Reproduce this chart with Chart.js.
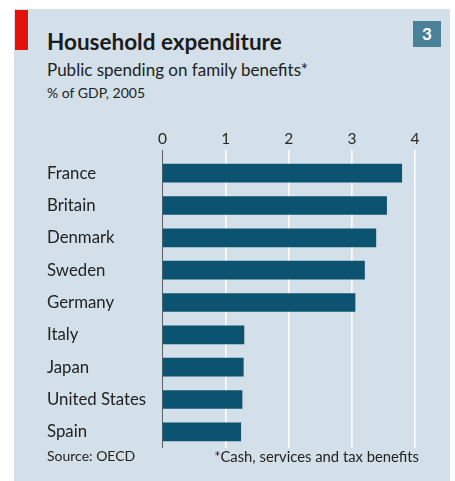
<!DOCTYPE html>
<html>
<head>
<meta charset="utf-8">
<script src="https://cdn.jsdelivr.net/npm/chart.js@4"></script>
<style>
  html, body { margin: 0; padding: 0; background: #fff; }
  body { width: 455px; height: 481px; position: relative; overflow: hidden; font-family: Lato, "Open Sans", sans-serif; }
  .panel { position: absolute; left: 14px; top: 9px; width: 436px; height: 472px; background: #d3e0e9; }
  .redbar { position: absolute; left: 15px; top: 10px; width: 13px; height: 40px; background: #e3120b; }
  .badge { position: absolute; left: 413px; top: 21px; width: 28px; height: 26px; background: #4b8099; color: #fff; font-weight: bold; font-size: 17px; text-align: center; line-height: 26px; }
  .title { position: absolute; left: 47px; top: 28px; font-size: 22.5px; font-weight: bold; color: #1c1c1c; white-space: nowrap; }
  .sub { position: absolute; left: 47px; top: 59px; font-size: 17px; color: #222; white-space: nowrap; }
  .unit { position: absolute; left: 47px; top: 84px; font-size: 14px; color: #222; white-space: nowrap; }
  .source { position: absolute; left: 47px; top: 447px; font-size: 14px; color: #222; white-space: nowrap; }
  .note { position: absolute; right: 36px; top: 447px; font-size: 14.8px; color: #222; white-space: nowrap; }
  #wrap { position: absolute; left: 0; top: 0; width: 455px; height: 481px; }
</style>
</head>
<body>
<div class="panel"></div>
<div class="redbar"></div>
<div class="badge">3</div>
<div class="title">Household expenditure</div>
<div class="sub">Public spending on family benefits*</div>
<div class="unit">% of GDP, 2005</div>
<div id="wrap"><canvas id="chart"></canvas></div>
<div class="source">Source: OECD</div>
<div class="note">*Cash, services and tax benefits</div>

<script>
// data
const countries = ['France', 'Britain', 'Denmark', 'Sweden', 'Germany', 'Italy', 'Japan', 'United States', 'Spain'];
const spending = [3.79, 3.55, 3.38, 3.20, 3.05, 1.29, 1.28, 1.26, 1.24];
const xTicks = [0, 1, 2, 3, 4];

const BAR = '#0b5371';

new Chart(document.getElementById('chart'), {
  type: 'bar',
  data: {
    labels: countries,
    datasets: [{
      data: spending,
      backgroundColor: BAR,
      borderWidth: 0,
      barThickness: 18
    }]
  },
  options: {
    indexAxis: 'y',
    responsive: true,
    maintainAspectRatio: false,
    animation: false,
    layout: { padding: { left: 47, right: 40, top: 117, bottom: 33 } },
    plugins: { legend: { display: false }, tooltip: { enabled: false } },
    scales: {
      x: {
        position: 'top',
        min: 0,
        max: 4,
        afterBuildTicks: function(scale) {
          scale.ticks = xTicks.map(v => ({ value: v }));
        },
        afterFit: function(scale) { scale.height = 40; },
        border: { display: false },
        grid: {
          color: ctx => ctx.tick && ctx.tick.value === 0 ? '#5a6066' : '#ffffff',
          lineWidth: ctx => ctx.tick && ctx.tick.value === 0 ? 1 : 1.6,
          tickLength: 7
        },
        ticks: {
          color: '#2a2a2a',
          padding: 2,
          font: { family: 'Lato', size: 15.5 }
        }
      },
      y: {
        afterFit: function(scale) { scale.width = 115.5; },
        border: { display: false },
        grid: { display: false },
        ticks: {
          crossAlign: 'far',
          color: '#222',
          font: { family: 'Lato', size: 16.8 }
        }
      }
    }
  }
});
</script>
</body>
</html>
